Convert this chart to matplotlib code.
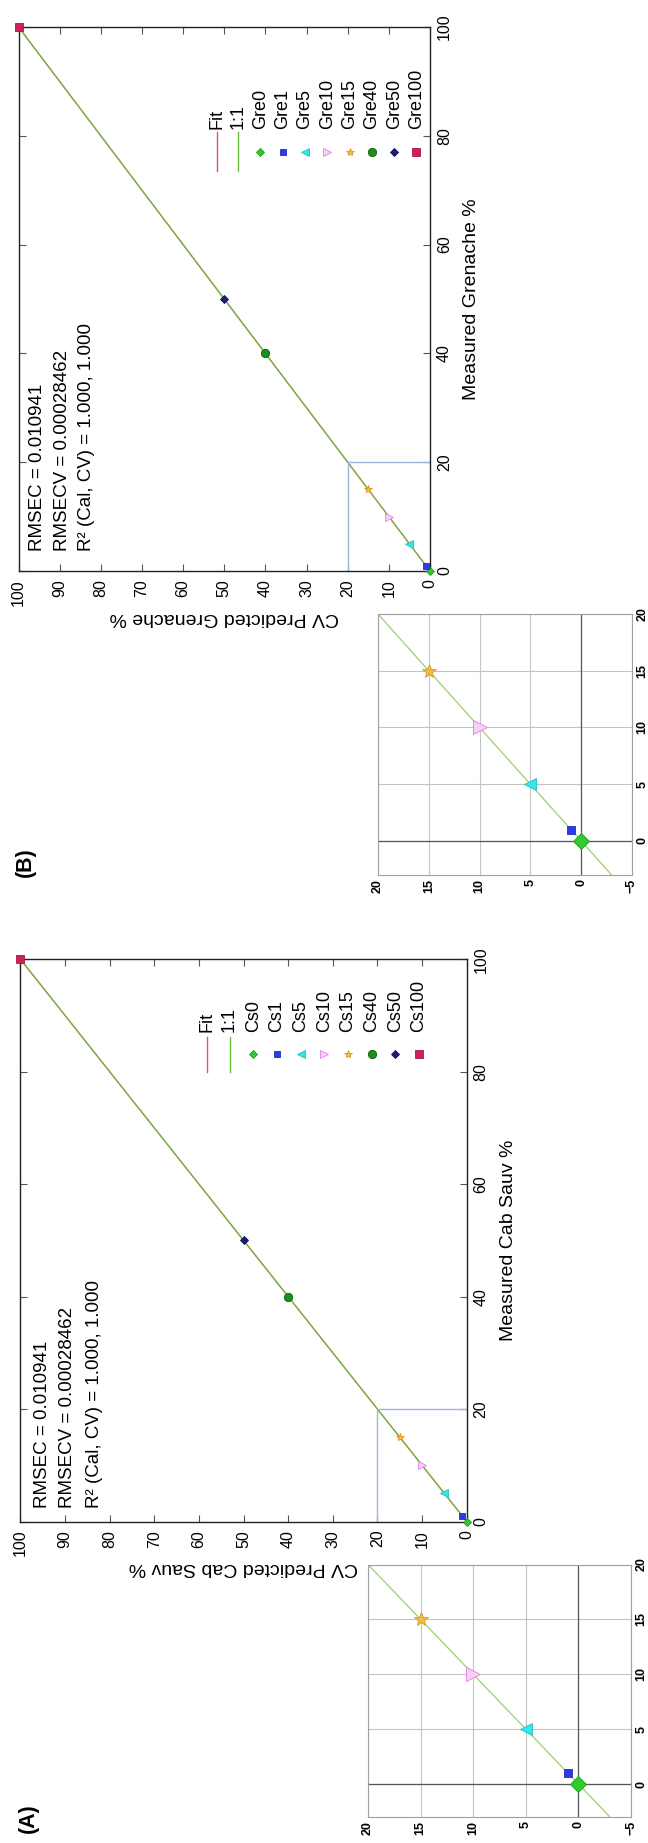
import matplotlib
matplotlib.use('Agg')
import matplotlib.pyplot as plt

plt.rcParams['font.family'] = ['Liberation Sans', 'DejaVu Sans']

measured = [0, 1, 5, 10, 15, 40, 50, 100]
predicted = [0, 1, 5, 10, 15, 40, 50, 100]
cs_names = ['Cs0', 'Cs1', 'Cs5', 'Cs10', 'Cs15', 'Cs40', 'Cs50', 'Cs100']
gre_names = ['Gre0', 'Gre1', 'Gre5', 'Gre10', 'Gre15', 'Gre40', 'Gre50', 'Gre100']
stats = ['RMSEC = 0.010941', 'RMSECV = 0.00028462', 'R\u00b2 (Cal, CV) = 1.000, 1.000']
main_ticks = [0, 10, 20, 30, 40, 50, 60, 70, 80, 90, 100]
meas_ticks = [0, 20, 40, 60, 80, 100]
inset_xticks = [-5, 0, 5, 10, 15, 20]
inset_yticks = [0, 5, 10, 15, 20]

# marker, face, edge, main size, inset size
styles = [('D', '#2fcc2f', '#1d9a1d', 4.5, 8),
          ('s', '#2b3bea', '#1f2cc0', 5, 6),
          ('<', '#35e6e6', '#20c0c0', 6, 8),
          ('>', '#f7d0f7', '#e27fe2', 6, 10),
          ('*', '#f2bb45', '#d99a20', 6, 10),
          ('o', '#1b8f1b', '#0f5f0f', 6, 7),
          ('D', '#1c1c7c', '#10105a', 4.5, 7),
          ('s', '#cc2255', '#a01840', 6, 7)]

fit_col = '#e05566'
one_col = '#6cc040'
box_col = '#9fb3dd'

fig = plt.figure(figsize=(6.48, 18.43), dpi=100)


def panel(rect, inset_rect, names, xlab, ylab, leg, txt_x, txt_y):
    ax = fig.add_axes(rect)
    ax.plot([0, 100], [0, 100], color=fit_col, lw=0.9)
    ax.plot([0, 100], [0, 100], color=one_col, lw=1.0, alpha=0.9)
    ax.plot([20, 20, 0], [0, 20, 20], color=box_col, lw=1.0)
    for i in range(len(measured)):
        m, fc, ec, ms, _ = styles[i]
        ax.plot(predicted[i], measured[i], marker=m, ms=ms, mfc=fc, mec=ec,
                mew=0.6, ls='none', clip_on=False, zorder=5)
    ax.set_xlim(100, 0)
    ax.set_ylim(0, 100)
    ax.set_xticks(main_ticks)
    ax.set_yticks(meas_ticks)
    ax.tick_params(direction='in', length=5, width=0.8, color='#555555',
                   top=True, right=True, left=True, bottom=True,
                   labelleft=False, labelright=True, labelsize=11.5, pad=6)
    ax.tick_params(axis='x', labelrotation=90)
    ax.tick_params(axis='y', labelrotation=90, pad=5)
    for t in ax.get_yticklabels():
        t.set_va('center')
    for s in ax.spines.values():
        s.set_color('#222222')
        s.set_linewidth(1.0)
    ax.yaxis.set_label_position('right')
    ax.set_ylabel(ylab, fontsize=14, rotation=90, labelpad=8)
    ax.set_xlabel(xlab, fontsize=14, rotation=180, labelpad=2)

    for k, s in enumerate(stats):
        ax.text(txt_x[k], txt_y, s, transform=ax.transAxes, rotation=90,
                ha='center', va='bottom', fontsize=13.5)

    # legend drawn by hand so it can be turned with the rest of the page
    lx0, lstep, ty, my, l0, l1 = leg
    ax.plot([lx0, lx0], [l0, l1], color=fit_col, lw=1.0, transform=ax.transAxes)
    ax.text(lx0, ty, 'Fit', transform=ax.transAxes, rotation=90,
            ha='center', va='bottom', fontsize=13)
    x1 = lx0 + lstep * 0.95
    ax.plot([x1, x1], [l0, l1], color=one_col, lw=1.0, transform=ax.transAxes)
    ax.text(x1, ty, '1:1', transform=ax.transAxes, rotation=90,
            ha='center', va='bottom', fontsize=13)
    for i, name in enumerate(names):
        m, fc, ec, ms, _ = styles[i]
        xx = x1 + lstep * (i + 1)
        ax.plot([xx], [my], marker=m, ms=ms, mfc=fc, mec=ec, mew=0.6,
                transform=ax.transAxes, ls='none')
        ax.text(xx, ty, name, transform=ax.transAxes, rotation=90,
                ha='center', va='bottom', fontsize=13)

    ai = fig.add_axes(inset_rect)
    ai.plot([-5, 25], [-5, 25], color='#a3d47f', lw=1.0, zorder=2)
    ai.axvline(0, color='#555555', lw=0.9, zorder=1)
    ai.axhline(0, color='#555555', lw=0.9, zorder=1)
    for i in range(len(measured)):
        m, fc, ec, _, ms = styles[i]
        ai.plot(predicted[i], measured[i], marker=m, ms=ms, mfc=fc, mec=ec,
                mew=0.6, ls='none', zorder=5)
    ai.set_xlim(20, -5)
    ai.set_ylim(-3, 20)
    ai.set_xticks(inset_xticks)
    ai.set_yticks(inset_yticks)
    ai.grid(True, color='#c4c4c4', lw=0.8)
    ai.set_axisbelow(True)
    ai.tick_params(length=0, labelleft=False, labelright=True, labelsize=9, pad=3)
    ai.tick_params(axis='x', labelrotation=90)
    ai.tick_params(axis='y', labelrotation=90)
    for t in ai.get_xticklabels() + ai.get_yticklabels():
        t.set_fontweight('bold')
    for t in ai.get_yticklabels():
        t.set_va('center')
    for s in ai.spines.values():
        s.set_color('#a0a0a0')
        s.set_linewidth(0.8)
    return ax


panel([0.0316, 0.17444, 0.6886, 0.30505], [0.5679, 0.01411, 0.4059, 0.137],
      cs_names, 'CV Predicted Cab Sauv %', 'Measured Cab Sauv %',
      (0.418, 0.0531, 0.871, 0.832, 0.862, 0.800),
      [0.050, 0.106, 0.167], 0.024)

panel([0.02855, 0.69018, 0.635, 0.29517], [0.5833, 0.52523, 0.392, 0.1416],
      gre_names, 'CV Predicted Grenache %', 'Measured Grenache %',
      (0.482, 0.0542, 0.8125, 0.770, 0.807, 0.735),
      [0.045, 0.106, 0.166], 0.037)

fig.text(0.0432, 0.01356, '(A)', rotation=90, ha='center', va='center',
         fontsize=15.5, fontweight='bold')
fig.text(0.0386, 0.5323, '(B)', rotation=90, ha='center', va='center',
         fontsize=15.5, fontweight='bold')

fig.savefig('out.png', dpi=100)
